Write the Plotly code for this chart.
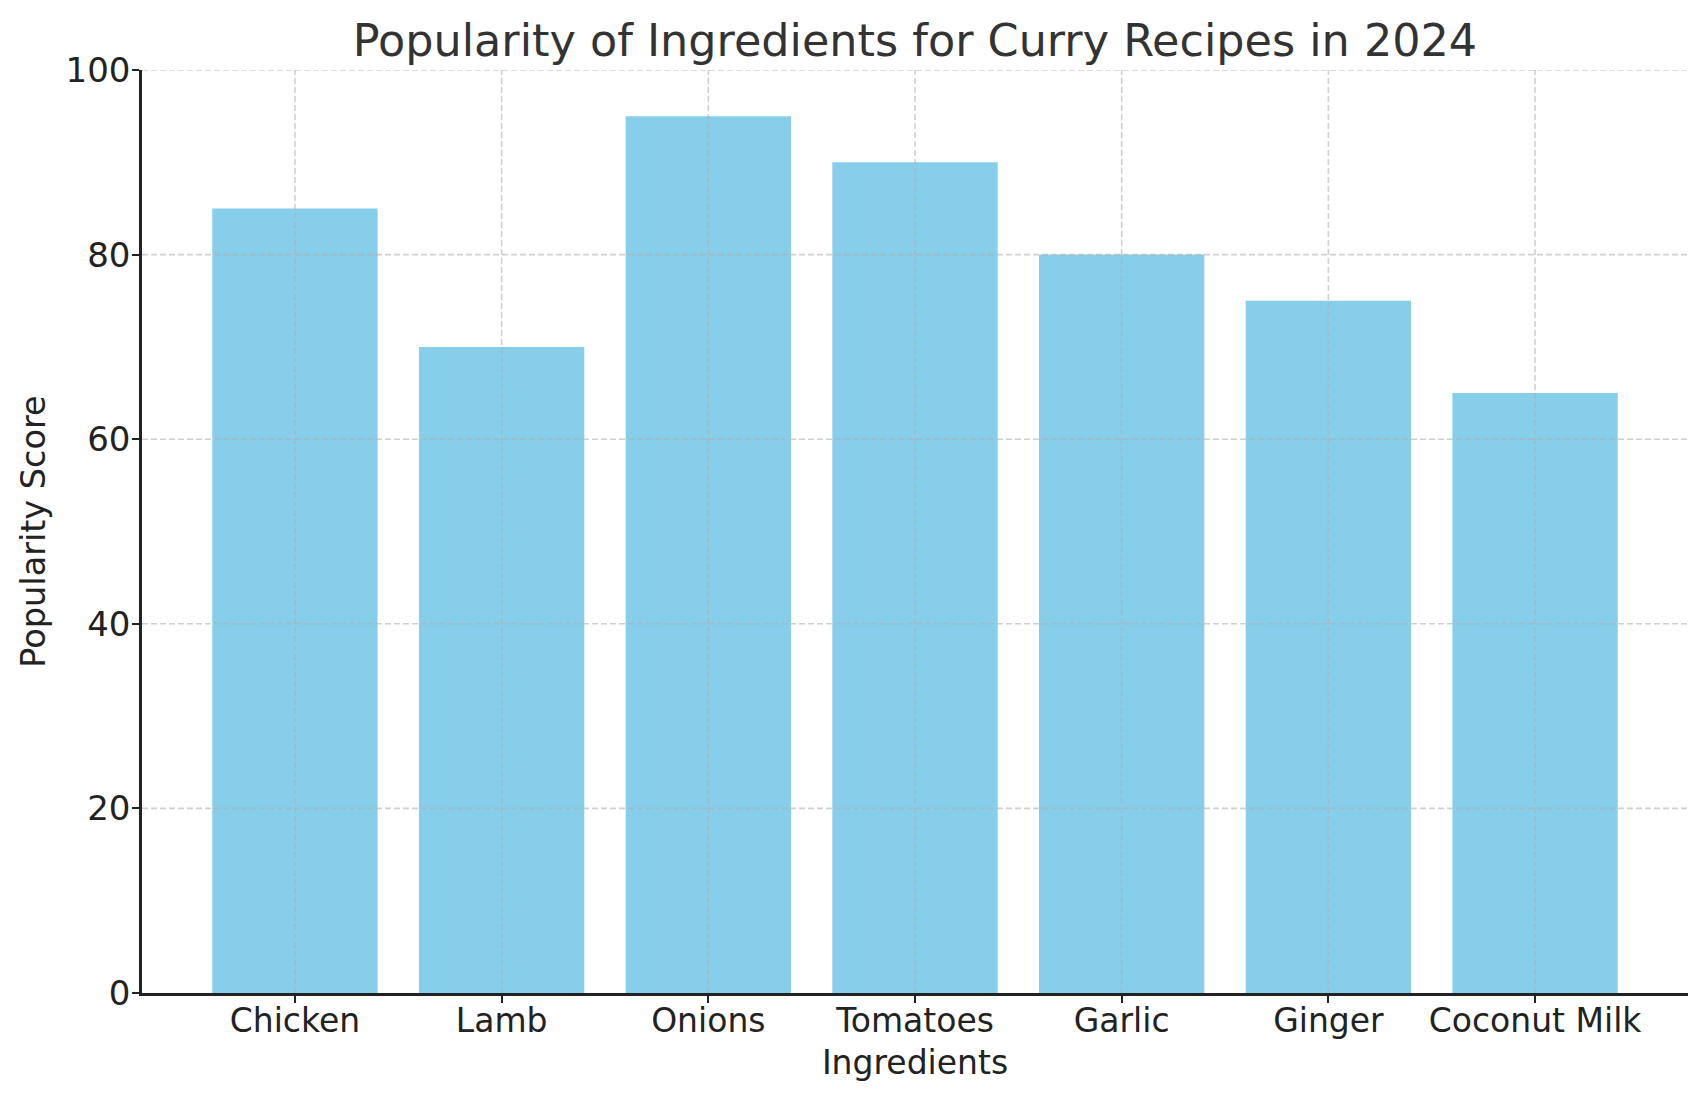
import plotly.graph_objects as go

ingredients = ['Chicken', 'Lamb', 'Onions', 'Tomatoes', 'Garlic', 'Ginger', 'Coconut Milk']
popularity = [85, 70, 95, 90, 80, 75, 65]
y_ticks = [0, 20, 40, 60, 80, 100]

font = 'DejaVu Sans'
grid_color = 'rgba(176,176,176,0.6)'

fig = go.Figure()
fig.add_trace(go.Bar(x=ingredients, y=popularity,
                     marker_color='#87CEEB', marker_line_width=0))

# gridlines drawn above the bars, as in the reference
shapes = []
for cat in ingredients:
    shapes.append(dict(type='line', xref='x', yref='y', x0=cat, x1=cat, y0=0, y1=100,
                       layer='above', line=dict(color=grid_color, width=1.6, dash='6px,3px')))
for t in y_ticks[1:]:
    shapes.append(dict(type='line', xref='paper', yref='y', x0=0, x1=1, y0=t, y1=t,
                       layer='above', line=dict(color=grid_color, width=1.6, dash='6px,3px')))

fig.update_layout(
    width=1707, height=1101,
    margin=dict(l=134, r=27, t=62, b=116),
    plot_bgcolor='white', paper_bgcolor='white',
    bargap=0.2,
    shapes=shapes,
    font=dict(family=font, size=33, color='#222222'),
    title=dict(text='Popularity of Ingredients for Curry Recipes in 2024',
               font=dict(family=font, size=44.5, color='#333333'),
               x=0.5, xref='paper', xanchor='center',
               y=1 - 32 / 1101, yanchor='middle'),
    showlegend=False,
)
fig.update_xaxes(
    range=[-0.74, 6.74], showgrid=False,
    showline=True, linecolor='#222222', linewidth=2.5,
    ticks='outside', ticklen=7, tickwidth=2, tickcolor='#222222',
    ticklabelstandoff=-10,
    title=dict(text='Ingredients', standoff=12, font=dict(size=33)),
    tickfont=dict(size=33),
)
fig.update_yaxes(
    range=[0, 100], tickvals=y_ticks, showgrid=False, zeroline=False,
    showline=True, linecolor='#222222', linewidth=2.5,
    ticks='outside', ticklen=7, tickwidth=2, tickcolor='#222222',
    ticklabelstandoff=-5,
    title=dict(text='Popularity Score', standoff=10, font=dict(size=33.5)),
    tickfont=dict(size=34),
)

fig.write_html('out.html')
